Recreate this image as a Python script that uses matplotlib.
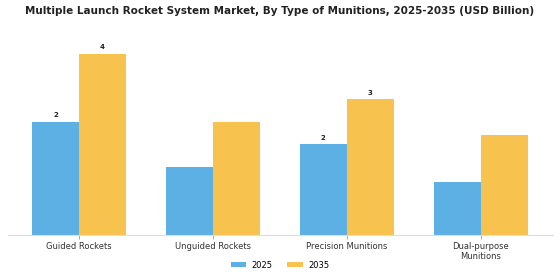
import numpy as np
import matplotlib.pyplot as plt

categories = ['Guided Rockets', 'Unguided Rockets', 'Precision Munitions', 'Dual-purpose\nMunitions']
values_2025 = [2.5, 1.5, 2.0, 1.17]
values_2035 = [4.0, 2.5, 3.0, 2.2]
# only these bars carry a value label in the original
labelled = [0, 2]

c2025 = '#5DB0E4'
c2035 = '#F7C34E'

fig = plt.figure(figsize=(5.6, 2.8), dpi=100)
ax = fig.add_axes([8 / 560, 1 - 235 / 280, 545 / 560, 205 / 280])

x = np.arange(len(categories))
w = 0.35
b1 = ax.bar(x - w / 2, values_2025, w, color=c2025, label='2025')
b2 = ax.bar(x + w / 2, values_2035, w, color=c2035, label='2035')

for i in labelled:
    ax.text(x[i] - w / 2, values_2025[i] + 0.08, f'{values_2025[i]:.0f}',
            ha='center', va='bottom', fontsize=5, fontweight='bold', color='#222222')
    ax.text(x[i] + w / 2, values_2035[i] + 0.08, f'{values_2035[i]:.0f}',
            ha='center', va='bottom', fontsize=5, fontweight='bold', color='#222222')

ax.set_xlim(-0.53, 3.54)
ax.set_ylim(0, 4.53)
ax.set_xticks(x)
ax.set_xticklabels(categories, fontsize=6, color='#333333')
ax.tick_params(axis='x', length=3, width=0.6, color='#999999', pad=2)
ax.set_yticks([])
for s in ['top', 'right', 'left']:
    ax.spines[s].set_visible(False)
ax.spines['bottom'].set_color('#dddddd')
ax.spines['bottom'].set_linewidth(0.8)

fig.suptitle('Multiple Launch Rocket System Market, By Type of Munitions, 2025-2035 (USD Billion)',
             fontsize=7.5, fontweight='bold', x=0.5, y=0.98, color='#222222')

fig.legend(handles=[b1, b2], loc='lower center', bbox_to_anchor=(0.5, 0.01), ncol=2, frameon=False,
           fontsize=6, handlelength=1.9, handleheight=0.6, handletextpad=0.6, columnspacing=1.8)

fig.savefig('out.png', dpi=100)
